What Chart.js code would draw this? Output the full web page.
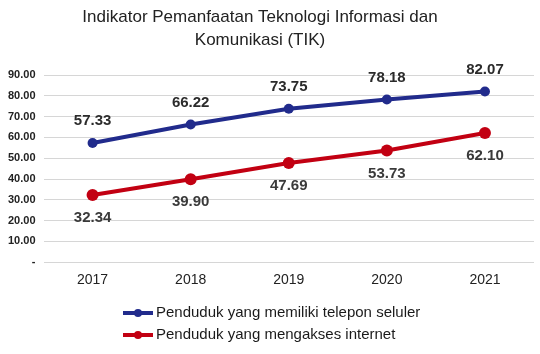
<!DOCTYPE html>
<html>
<head>
<meta charset="utf-8">
<script src="https://cdn.jsdelivr.net/npm/chart.js@4/dist/chart.umd.min.js"></script>
<style>
html,body{margin:0;padding:0;background:#fff;}
#wrap{position:relative;width:540px;height:354px;}
</style>
</head>
<body>
<div id="wrap"><canvas id="c" width="540" height="354"></canvas></div>
<script>
const years = ['2017','2018','2019','2020','2021'];
const seluler = [57.33, 66.22, 73.75, 78.18, 82.07];
const internet = [32.34, 39.90, 47.69, 53.73, 62.10];
const seriesNames = ['Penduduk yang memiliki telepon seluler','Penduduk yang mengakses internet'];
const titleLines = ['Indikator Pemanfaatan Teknologi Informasi dan','Komunikasi (TIK)'];
const BLUE = '#212b8c', RED = '#c20012';

const labelPlugin = {
  id: 'valLabels',
  afterDatasetsDraw(chart) {
    const ctx = chart.ctx;
    ctx.save();
    ctx.textAlign = 'center';
    ctx.textBaseline = 'middle';
    chart.data.datasets.forEach((ds, i) => {
      const meta = chart.getDatasetMeta(i);
      meta.data.forEach((pt, j) => {
        const v = ds.data[j];
        ctx.font = 'bold 15px "Liberation Sans", Arial, sans-serif';
        if (i === 0) {
          ctx.fillStyle = '#2b2b2b';
          ctx.fillText(v.toFixed(2), pt.x, pt.y - 22);
        } else {
          ctx.fillStyle = '#3a3a3a';
          ctx.fillText(v.toFixed(2), pt.x, pt.y + 23);
        }
      });
    });
    ctx.restore();
  }
};

const titlePlugin = {
  id: 'titleText',
  afterDraw(chart) {
    const ctx = chart.ctx;
    ctx.save();
    ctx.fillStyle = '#222';
    ctx.font = '17px "Liberation Sans", Arial, sans-serif';
    ctx.textAlign = 'center'; ctx.textBaseline = 'middle';
    ctx.fillText(titleLines[0], 260, 17);
    ctx.fillText(titleLines[1], 260, 40);
    ctx.restore();
  }
};

const legendPlugin = {
  id: 'vertLegend',
  afterDraw(chart) {
    const ctx = chart.ctx;
    ctx.save();
    const x0 = 123, x1 = 153, tx = 156;
    const ys = [313, 335];
    chart.data.datasets.forEach((ds, i) => {
      const y = ys[i];
      ctx.strokeStyle = ds.borderColor;
      ctx.lineWidth = 4;
      ctx.beginPath(); ctx.moveTo(x0, y); ctx.lineTo(x1, y); ctx.stroke();
      ctx.fillStyle = ds.borderColor;
      ctx.beginPath(); ctx.arc((x0+x1)/2, y, 4, 0, Math.PI*2); ctx.fill();
      ctx.fillStyle = '#1a1a1a';
      ctx.font = '15px "Liberation Sans", Arial, sans-serif';
      ctx.textAlign = 'left'; ctx.textBaseline = 'middle';
      ctx.fillText(ds.label, tx, y);
    });
    ctx.restore();
  }
};

new Chart(document.getElementById('c'), {
  type: 'line',
  data: {
    labels: years,
    datasets: [
      { label: seriesNames[0], data: seluler, borderColor: BLUE, backgroundColor: BLUE,
        borderWidth: 4, pointRadius: 5, pointBackgroundColor: BLUE, pointBorderWidth: 0, tension: 0 },
      { label: seriesNames[1], data: internet, borderColor: RED, backgroundColor: RED,
        borderWidth: 4, pointRadius: 6, pointBackgroundColor: RED, pointBorderWidth: 0, tension: 0 }
    ]
  },
  plugins: [labelPlugin, legendPlugin, titlePlugin],
  options: {
    responsive: false,
    animation: false,
    layout: { padding: { left: 0, right: 5, top: 75, bottom: 55 } },
    plugins: {
      legend: { display: false },
      tooltip: { enabled: false },
      title: { display: false }
    },
    scales: {
      x: {
        offset: true,
        grid: { display: false, drawTicks: false },
        border: { display: false },
        ticks: { color: '#222', font: { family: '"Liberation Sans", Arial, sans-serif', size: 14 }, padding: 10 }
      },
      y: {
        min: 0, max: 90,
        grid: { color: '#d6d6d6', lineWidth: 1, drawTicks: false },
        border: { display: false },
        ticks: {
          stepSize: 10,
          color: '#222',
          padding: 8,
          font: { family: '"Liberation Sans", Arial, sans-serif', size: 11, weight: 'bold' },
          callback: v => v === 0 ? '-' : Number(v).toFixed(2)
        }
      }
    }
  }
});
</script>
</body>
</html>
